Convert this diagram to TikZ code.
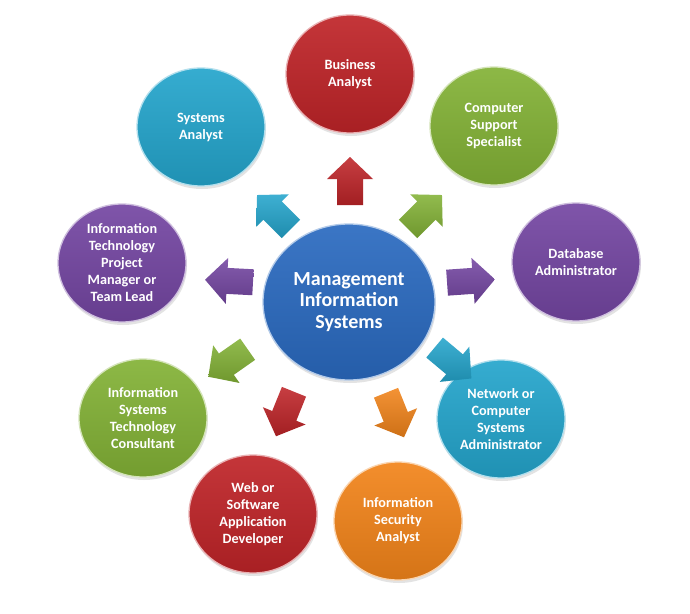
\documentclass[tikz,border=0pt]{standalone}
\usepackage{fontspec}
\setmainfont{Carlito}
\usetikzlibrary{shapes.geometric,shadows}
\definecolor{cBlue}{HTML}{2A6AC0}
\definecolor{cRed}{HTML}{BF2428}
\definecolor{cGreen}{HTML}{83B236}
\definecolor{cPurple}{HTML}{7446A2}
\definecolor{cCyan}{HTML}{24A5CC}
\definecolor{cOrange}{HTML}{F2841A}
\tikzset{
  bubble/.style={ellipse, inner sep=0pt, align=center, text=white,
    top color=#1!92!white, bottom color=#1!88!black,
    draw=#1!35!white, line width=1.3pt,
    drop shadow={opacity=0.22, shadow xshift=1pt, shadow yshift=-3pt},
    font=\bfseries\fontsize{14.2}{17}\selectfont},
  outer/.style={bubble=#1, minimum width=128pt, minimum height=118pt},
  hub/.style={bubble=#1, minimum width=172pt, minimum height=156pt,
    font=\bfseries\fontsize{20}{21.5}\selectfont},
  blockarrow/.style={top color=#1!88!white, bottom color=#1!85!black, draw=none}
}
\newcommand\barrow[4]{%
  \begin{scope}[shift={(#1,#2)},rotate=#3]
    \shade[blockarrow=#4] (-24,-13) -- (2,-13) -- (2,-23) -- (24,0) -- (2,23) -- (2,13) -- (-24,13) -- cycle;
  \end{scope}}
\begin{document}
\begin{tikzpicture}[x=1pt,y=-1pt]
  \useasboundingbox[fill=white] (0,0) rectangle (690,613);
  % hub
  \node[hub=cBlue] (mis) at (349,302) {Management\\Information\\Systems};
  % outer roles
  \node[outer=cRed] (ba) at (350,74) {Business\\Analyst};
  \node[outer=cCyan] (sa) at (201,127) {Systems\\Analyst};
  \node[outer=cGreen] (css) at (494,126) {Computer\\Support\\Specialist};
  \node[outer=cPurple] (dba) at (576,262) {Database\\Administrator};
  \node[outer=cPurple] (itpm) at (122,263) {Information\\Technology\\Project\\Manager or\\Team Lead};
  \node[outer=cGreen] (istc) at (143,418) {Information\\Systems\\Technology\\Consultant};
  \node[outer=cRed] (web) at (253,514) {Web or\\Software\\Application\\Developer};
  \node[outer=cOrange] (isa) at (398,521) {Information\\Security\\Analyst};
  \node[outer=cCyan] (net) at (501,419) {Network or\\Computer\\Systems\\Administrator};
  % block arrows
  \barrow{350}{181}{90}{cRed}
  \barrow{425}{212}{45}{cGreen}
  \barrow{471}{281}{4}{cPurple}
  \barrow{453}{363}{-40}{cCyan}
  \barrow{395}{415}{-68}{cOrange}
  \barrow{285}{414}{-112}{cRed}
  \barrow{228}{363}{-145}{cGreen}
  \barrow{229}{281}{177}{cPurple}
  \barrow{274}{212}{135}{cCyan}
\end{tikzpicture}
\end{document}
